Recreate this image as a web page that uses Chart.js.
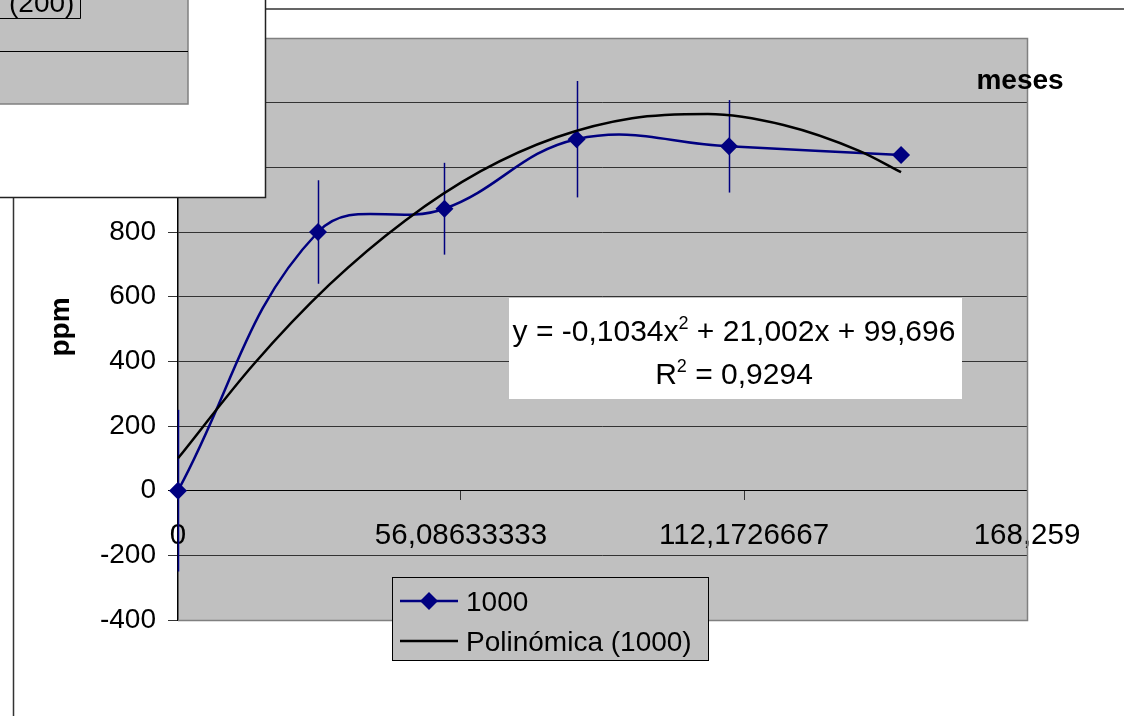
<!DOCTYPE html>
<html>
<head>
<meta charset="utf-8">
<script src="https://cdn.jsdelivr.net/npm/chart.js@4.4.1/dist/chart.umd.min.js"></script>
<style>
    html, body { margin: 0; padding: 0; background: #fff; }
    #wrap { width: 1124px; height: 716px; }
</style>
</head>
<body>
<div id="wrap"><canvas id="myPpmChart" width="1124" height="716"></canvas></div>
<script>
// datos
var monthValues = [0, 27.75, 52.8, 79.0, 109.2, 143.3];
var ppmValues = [0, 800, 872, 1087, 1065, 1038];
var ppmErrors = [250, 160, 142, 180, 143, 0];

// linea de tendencia (polinomica)
var trendMonths = [0, 15, 30, 45, 60, 75, 90, 105, 120, 135, 143.3];
var trendPpm = [100, 391, 637, 835, 988, 1093, 1152, 1165, 1131, 1051, 985];

var xTickValues = [0, 56.08633333, 112.1726667, 168.259];
var xTickLabels = ['0', '56,08633333', '112,1726667', '168,259'];
var yTickValues = [-400, -200, 0, 200, 400, 600, 800, 1000, 1200, 1400];

var seriesName = '1000';
var trendName = 'Polinómica (1000)';
var eqLine1 = ['y = -0,1034x', '2', ' + 21,002x + 99,696'];
var eqLine2 = ['R', '2', ' = 0,9294'];

var FONT = "'Liberation Sans', Arial, sans-serif";
var NAVY = '#000080';

function toPoints(xs, ys) {
    var pts = [];
    for (let i = 0; i < xs.length; i++) {
        pts.push({x: xs[i], y: ys[i]});
    }
    return pts;
}

function drawSupText(ctx, parts, cx, baseline) {
    ctx.font = '30px ' + FONT;
    var w0 = ctx.measureText(parts[0]).width;
    var w2 = ctx.measureText(parts[2]).width;
    ctx.font = '18px ' + FONT;
    var w1 = ctx.measureText(parts[1]).width;
    var x = cx - (w0 + w1 + w2) / 2;
    ctx.textAlign = 'left';
    ctx.textBaseline = 'alphabetic';
    ctx.font = '30px ' + FONT;
    ctx.fillText(parts[0], x, baseline);
    ctx.font = '18px ' + FONT;
    ctx.fillText(parts[1], x + w0, baseline - 12);
    ctx.font = '30px ' + FONT;
    ctx.fillText(parts[2], x + w0 + w1, baseline);
}

var extrasPlugin = {
    id: 'extrasPlugin',
    beforeDraw: function (chart) {
        var ctx = chart.ctx;
        var a = chart.chartArea;
        ctx.save();
        ctx.fillStyle = '#fff';
        ctx.fillRect(0, 0, chart.width, chart.height);
        ctx.fillStyle = '#c0c0c0';
        ctx.fillRect(a.left, a.top, a.right - a.left, a.bottom - a.top);
        ctx.restore();
    },
    beforeDatasetsDraw: function (chart) {
        // barras de error
        var ctx = chart.ctx;
        var xs = chart.scales.x, ys = chart.scales.y;
        ctx.save();
        ctx.strokeStyle = NAVY;
        ctx.lineWidth = 1.5;
        for (let i = 0; i < monthValues.length; i++) {
            if (!ppmErrors[i]) continue;
            var px = Math.round(xs.getPixelForValue(monthValues[i])) + 0.5;
            ctx.beginPath();
            ctx.moveTo(px, ys.getPixelForValue(ppmValues[i] + ppmErrors[i]));
            ctx.lineTo(px, ys.getPixelForValue(ppmValues[i] - ppmErrors[i]));
            ctx.stroke();
        }
        ctx.restore();
    },
    afterDraw: function (chart) {
        var ctx = chart.ctx;
        var a = chart.chartArea;
        ctx.save();

        // borde del area de trazado
        ctx.strokeStyle = '#808080';
        ctx.lineWidth = 1.5;
        ctx.beginPath();
        ctx.moveTo(a.left, a.top + 0.5);
        ctx.lineTo(a.right + 0.5, a.top + 0.5);
        ctx.lineTo(a.right + 0.5, a.bottom + 0.5);
        ctx.lineTo(a.left, a.bottom + 0.5);
        ctx.stroke();

        // cuadro de la ecuacion
        ctx.fillStyle = '#fff';
        ctx.fillRect(509, 298, 453, 101);
        ctx.fillStyle = '#000';
        drawSupText(ctx, eqLine1, 734, 341);
        drawSupText(ctx, eqLine2, 734, 384);

        // leyenda
        ctx.fillStyle = '#c0c0c0';
        ctx.fillRect(392, 577, 316, 83);
        ctx.strokeStyle = '#000';
        ctx.lineWidth = 1;
        ctx.strokeRect(392.5, 577.5, 316, 83);
        ctx.strokeStyle = NAVY;
        ctx.lineWidth = 2.5;
        ctx.beginPath();
        ctx.moveTo(400, 601);
        ctx.lineTo(458, 601);
        ctx.stroke();
        ctx.fillStyle = NAVY;
        ctx.beginPath();
        ctx.moveTo(429, 592);
        ctx.lineTo(438, 601);
        ctx.lineTo(429, 610);
        ctx.lineTo(420, 601);
        ctx.closePath();
        ctx.fill();
        ctx.strokeStyle = '#000';
        ctx.beginPath();
        ctx.moveTo(400, 641);
        ctx.lineTo(458, 641);
        ctx.stroke();
        ctx.fillStyle = '#000';
        ctx.font = '28px ' + FONT;
        ctx.textAlign = 'left';
        ctx.textBaseline = 'alphabetic';
        ctx.fillText(seriesName, 466, 611);
        ctx.fillText(trendName, 466, 651);

        // titulos de ejes
        ctx.font = 'bold 28px ' + FONT;
        ctx.textAlign = 'center';
        ctx.fillText('meses', 1020, 89);
        ctx.save();
        ctx.translate(69, 327);
        ctx.rotate(-Math.PI / 2);
        ctx.fillText('ppm', 0, 0);
        ctx.restore();

        // marco exterior
        ctx.strokeStyle = '#333';
        ctx.lineWidth = 1.5;
        ctx.beginPath();
        ctx.moveTo(265, 9);
        ctx.lineTo(1124, 9);
        ctx.moveTo(13.5, 197);
        ctx.lineTo(13.5, 716);
        ctx.stroke();

        // recuadro superpuesto de otro grafico
        ctx.fillStyle = '#fff';
        ctx.fillRect(0, 0, 265, 197);
        ctx.fillStyle = '#c0c0c0';
        ctx.fillRect(0, 0, 188, 104);
        ctx.strokeStyle = '#808080';
        ctx.lineWidth = 1.5;
        ctx.beginPath();
        ctx.moveTo(188, 0);
        ctx.lineTo(188, 104);
        ctx.lineTo(0, 104);
        ctx.stroke();
        ctx.strokeStyle = '#000';
        ctx.lineWidth = 1;
        ctx.beginPath();
        ctx.moveTo(0, 51.5);
        ctx.lineTo(188, 51.5);
        ctx.moveTo(80.5, 0);
        ctx.lineTo(80.5, 18.5);
        ctx.lineTo(0, 18.5);
        ctx.stroke();
        ctx.fillStyle = '#000';
        ctx.font = '28px ' + FONT;
        ctx.textAlign = 'left';
        ctx.fillText('(200)', 9, 12);
        ctx.strokeStyle = '#222';
        ctx.lineWidth = 1.5;
        ctx.beginPath();
        ctx.moveTo(265.5, 0);
        ctx.lineTo(265.5, 197.5);
        ctx.lineTo(0, 197.5);
        ctx.stroke();

        ctx.restore();
    }
};

var ctx1 = document.getElementById('myPpmChart').getContext('2d');
new Chart(ctx1, {
    type: 'line',
    data: {
        datasets: [{
            label: seriesName,
            data: toPoints(monthValues, ppmValues),
            borderColor: NAVY,
            backgroundColor: NAVY,
            borderWidth: 2.5,
            pointStyle: 'rectRot',
            pointRadius: 9,
            pointBorderWidth: 0,
            tension: 0.4,
            clip: false,
            order: 1
        }, {
            label: trendName,
            data: toPoints(trendMonths, trendPpm),
            borderColor: '#000',
            borderWidth: 2.5,
            pointRadius: 0,
            cubicInterpolationMode: 'monotone',
            clip: false,
            order: 0
        }]
    },
    options: {
        responsive: false,
        animation: false,
        devicePixelRatio: 1,
        layout: {
            padding: {left: 0, right: 97, top: 38, bottom: 96}
        },
        plugins: {
            legend: {display: false},
            tooltip: {enabled: false}
        },
        scales: {
            x: {
                type: 'linear',
                position: {y: 0},
                min: 0,
                max: 168.259,
                afterBuildTicks: function (scale) {
                    scale.ticks = xTickValues.map(function (v) { return {value: v}; });
                },
                ticks: {
                    autoSkip: false,
                    maxRotation: 0,
                    padding: 18,
                    color: '#000',
                    font: {family: FONT, size: 29.5},
                    callback: function (value, index) {
                        return xTickLabels[index];
                    }
                },
                grid: {
                    drawOnChartArea: false,
                    tickLength: 9,
                    color: '#333'
                },
                border: {color: '#000', width: 1}
            },
            y: {
                min: -400,
                max: 1400,
                afterBuildTicks: function (scale) {
                    scale.ticks = yTickValues.map(function (v) { return {value: v}; });
                },
                afterFit: function (scale) {
                    scale.width = 178;
                },
                ticks: {
                    padding: 12,
                    color: '#000',
                    font: {family: FONT, size: 28}
                },
                grid: {
                    tickLength: 10,
                    color: function (c) {
                        return c.tick && c.tick.value === 0 ? '#000' : '#333';
                    }
                },
                border: {color: '#000', width: 1.5}
            }
        }
    },
    plugins: [extrasPlugin]
});
</script>
</body>
</html>
